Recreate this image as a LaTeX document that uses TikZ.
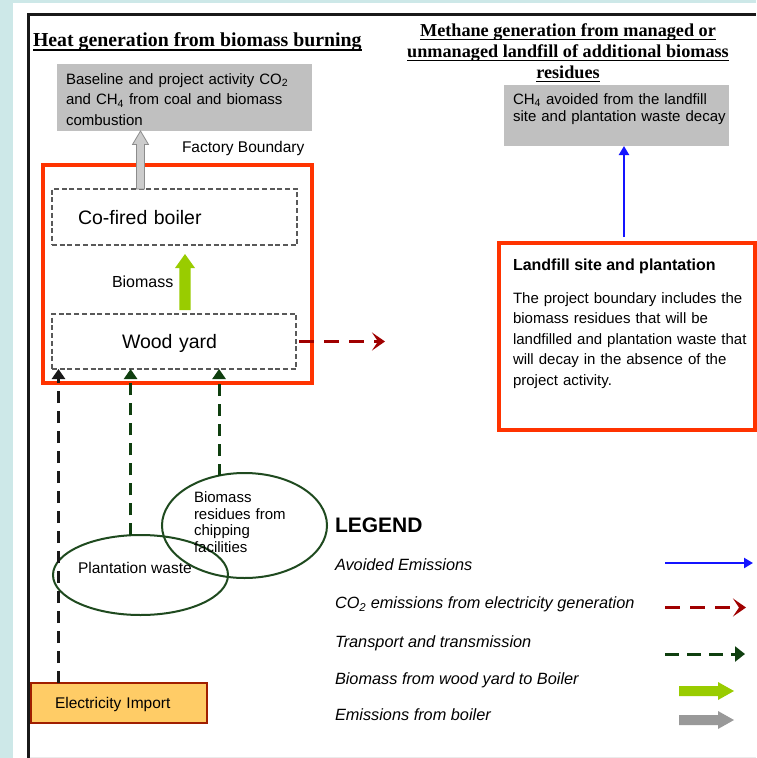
\documentclass[tikz,border=0pt]{standalone}
\usepackage{fontspec}
\setmainfont{Liberation Serif}
\setsansfont{Liberation Sans}
\usetikzlibrary{shapes.geometric,arrows.meta,calc}
\definecolor{bgc}{HTML}{CDE8E8}
\definecolor{fbred}{HTML}{FF3300}
\definecolor{dred}{HTML}{A00000}
\definecolor{dgreen}{HTML}{0F3F0F}
\definecolor{egreen}{HTML}{1F4A1F}
\definecolor{lgreen}{HTML}{99CC00}
\definecolor{boxgray}{HTML}{C0C0C0}
\definecolor{arrgray}{HTML}{999999}
\definecolor{elfill}{HTML}{FFCC66}
\definecolor{elline}{HTML}{A01E00}
\definecolor{blueone}{HTML}{1414FF}
\begin{document}
\begin{tikzpicture}[x=1pt,y=-1pt,
  every node/.style={outer sep=0pt},
  graybox/.style={fill=boxgray, inner sep=0pt},
  redbox/.style={draw=fbred, inner sep=0pt},
  dbox/.style={draw=black!65, dash pattern=on 5pt off 2.7pt, line width=1.4pt,
    font=\sffamily\fontsize{19.5pt}{22pt}\selectfont, align=left,
    text height=14pt, text depth=0pt, inner ysep=0pt},
  elbox/.style={draw=elline, fill=elfill, line width=2.5pt, inner ysep=0pt,
    font=\sffamily\fontsize{15.5pt}{18pt}\selectfont, align=left,
    text height=11.3pt, text depth=0pt},
  ell/.style={ellipse, draw=egreen, line width=2pt, inner sep=0pt},
  txt/.style={font=\sffamily\fontsize{15pt}{18pt}\selectfont, inner sep=0pt, anchor=base west, align=left},
  legt/.style={font=\sffamily\itshape\fontsize{16.3pt}{18pt}\selectfont, inner sep=0pt, anchor=base west},
  ttlA/.style={font=\rmfamily\bfseries\fontsize{19.8pt}{22pt}\selectfont, inner sep=0pt, anchor=base west},
  ttlB/.style={font=\rmfamily\bfseries\fontsize{18.2pt}{21pt}\selectfont, inner sep=0pt, anchor=base},
  uline/.style={line width=1.3pt, black},
  bluearr/.style={draw=blueone, line width=2.5pt, -{Triangle[length=9pt,width=10pt]}},
  reddash/.style={draw=dred, line width=3.5pt, dash pattern=on 15pt off 10pt,
    -{Stealth[length=13pt,width=18pt,inset=6pt]}},
  kdash/.style={draw=black!90, line width=3pt, dash pattern=on 12pt off 8pt,
    -{Triangle[length=10pt,width=13pt]}},
  gdash/.style={draw=dgreen, line width=3pt, dash pattern=on 12pt off 8pt,
    -{Triangle[length=10pt,width=13pt]}},
  gdashL/.style={draw=dgreen, line width=3pt, dash pattern=on 14pt off 8pt,
    -{Triangle[length=10pt,width=15pt]}}
]
\useasboundingbox (0,0) rectangle (756,758);
% background
\fill[white] (0,0) rectangle (756,758);
\fill[bgc] (0,0) rectangle (13.3,758);
\fill[bgc] (13.3,0) rectangle (756,3.3);
\draw[line width=3pt, black!90] (28,758) -- (28,14) -- (756,14);
\draw[line width=1pt, black!8] (29.5,757) -- (756,757);

% titles
\node[ttlA] (t1) at (33,46.7) {Heat generation from biomass burning};
\draw[uline] ([yshift=-3.3pt]t1.base west) -- ([yshift=-3.3pt]t1.base east);
\node[ttlB] (t2a) at (568,36.7) {Methane generation from managed or};
\node[ttlB] (t2b) at (568,57.3) {unmanaged landfill of additional biomass};
\node[ttlB] (t2c) at (568,78.3) {residues};
\foreach \n in {t2a,t2b,t2c}
  \draw[uline] ([yshift=-3pt]\n.base west) -- ([yshift=-3pt]\n.base east);

% emission boxes
\node[graybox, minimum width=255pt, minimum height=67pt] (em1) at (184.5,97.5) {};
\node[txt, text width=250pt, font=\sffamily\fontsize{15pt}{20.5pt}\selectfont] (em1t) at (66,84.4)
  {Baseline and project activity CO\textsubscript{2}\\and CH\textsubscript{4} from coal and biomass\\combustion};
\node[graybox, minimum width=225pt, minimum height=61.5pt] (em2) at (616.5,115.25) {};
\node[txt, text width=220pt, font=\sffamily\fontsize{15pt}{17pt}\selectfont] (em2t) at (513,104.4)
  {CH\textsubscript{4} avoided from the landfill\\site and plantation waste decay};

% factory boundary
\node[txt, font=\sffamily\fontsize{15.5pt}{18pt}\selectfont] (fbl) at (182,152.6) {Factory Boundary};
\node[redbox, line width=3.3pt, minimum width=269pt, minimum height=218pt] (fac) at (177.5,274) {};

\node[dbox, text width=193pt, inner xsep=26pt, minimum height=56pt] (boiler) at (174.5,217) {Co-fired boiler};
\node[dbox, text width=104pt, inner xsep=70pt, minimum height=55pt] (wood) at (174,341.5) {Wood yard};
\node[txt, font=\sffamily\fontsize{16pt}{18pt}\selectfont] (biol) at (112,287.8) {Biomass};

% gray emission arrow (boiler -> em1)
\coordinate (gx) at (140.5,0);
\coordinate (gT) at (boiler.north -| gx);
\coordinate (gP) at (em1.south -| gx);
\filldraw[fill=black!20, draw=black!45, line width=0.8pt]
  ($(gT)+(-4,0)$) -- ($(gP)+(-4,13.5)$) -- ($(gP)+(-8,13.5)$) -- (gP)
  -- ($(gP)+(8,13.5)$) -- ($(gP)+(4,13.5)$) -- ($(gT)+(4,0)$) -- cycle;

% green biomass arrow (wood -> boiler)
\coordinate (grx) at (185,0);
\coordinate (grT) at ($(wood.north -| grx)+(0,-4)$);
\coordinate (grP) at ($(boiler.south -| grx)+(0,9)$);
\fill[lgreen]
  ($(grT)+(-5.7,0)$) -- ($(grP)+(-5.7,14)$) -- ($(grP)+(-10,14)$) -- (grP)
  -- ($(grP)+(10,14)$) -- ($(grP)+(5.7,14)$) -- ($(grT)+(5.7,0)$) -- cycle;

% red dashed from wood yard
\coordinate (rdx) at (385,0);
\draw[reddash, shorten <=3pt] (wood.east) -- (wood.east -| rdx);

% landfill box
\node[redbox, line width=3.5pt, minimum width=256pt, minimum height=187pt] (land) at (627,336.5) {};
\node[txt, font=\sffamily\bfseries\fontsize{16pt}{18pt}\selectfont] (landt) at (513,270.8) {Landfill site and plantation};
\node[txt, text width=250pt, font=\sffamily\fontsize{15pt}{20.5pt}\selectfont] (landb) at (513,303.4)
  {The project boundary includes the\\biomass residues that will be\\landfilled and plantation waste that\\will decay in the absence of the\\project activity.};
\coordinate (bx) at (624,0);
\draw[bluearr, shorten <=6pt] (land.north -| bx) -- (em2.south -| bx);

% sources
\node[ell, minimum width=175pt, minimum height=80pt] (plant) at (140.5,575) {};
\node[ell, minimum width=165pt, minimum height=105pt] (bio) at (244.5,525.5) {};
\node[txt, font=\sffamily\fontsize{15.5pt}{18pt}\selectfont] (plantt) at (78,573.6) {Plantation waste};
\node[txt, text width=100pt, font=\sffamily\fontsize{15pt}{16.7pt}\selectfont] (biot) at (194,502.4)
  {Biomass\\residues from\\chipping\\facilities};
\node[elbox, text width=128pt, inner xsep=24pt, minimum width=176pt, minimum height=40pt] (elec) at (119,703) {Electricity Import};

\coordinate (kx) at (58.5,0);
\draw[kdash] (elec.north -| kx) -- (wood.south -| kx);
\draw[gdash] (plant.104) -- (plant.104 |- wood.south);
\draw[gdash] (bio.117) -- (bio.117 |- wood.south);

% legend
\node[txt, font=\sffamily\bfseries\fontsize{21pt}{24pt}\selectfont] (leg) at (335,532.5) {LEGEND};
\node[legt] (lg1) at (335,570.9) {Avoided Emissions};
\node[legt] (lg2) at (335,608.9) {CO\textsubscript{2} emissions from electricity generation};
\node[legt] (lg3) at (335,647.9) {Transport and transmission};
\node[legt] (lg4) at (335,684.9) {Biomass from wood yard to Boiler};
\node[legt] (lg5) at (335,720.9) {Emissions from boiler};

\coordinate (l1a) at (665,563);   \coordinate (l1b) at (753,563);
\coordinate (l2a) at (665,607.5); \coordinate (l2b) at (746,607.5);
\coordinate (l3a) at (665,654);   \coordinate (l3b) at (745,654);
\coordinate (l4a) at (679,691);   \coordinate (l4b) at (734,691);
\coordinate (l5a) at (679,720);   \coordinate (l5b) at (734,720);
\draw[bluearr] (l1a) -- (l1b);
\draw[reddash] (l2a) -- (l2b);
\draw[gdashL] (l3a) -- (l3b);
\fill[lgreen] ($(l4a)+(0,-5)$) -- ($(l4b)+(-16,-5)$) -- ($(l4b)+(-16,-9)$) -- (l4b)
  -- ($(l4b)+(-16,9)$) -- ($(l4b)+(-16,5)$) -- ($(l4a)+(0,5)$) -- cycle;
\fill[arrgray] ($(l5a)+(0,-5)$) -- ($(l5b)+(-16,-5)$) -- ($(l5b)+(-16,-9)$) -- (l5b)
  -- ($(l5b)+(-16,9)$) -- ($(l5b)+(-16,5)$) -- ($(l5a)+(0,5)$) -- cycle;
\end{tikzpicture}
\end{document}
